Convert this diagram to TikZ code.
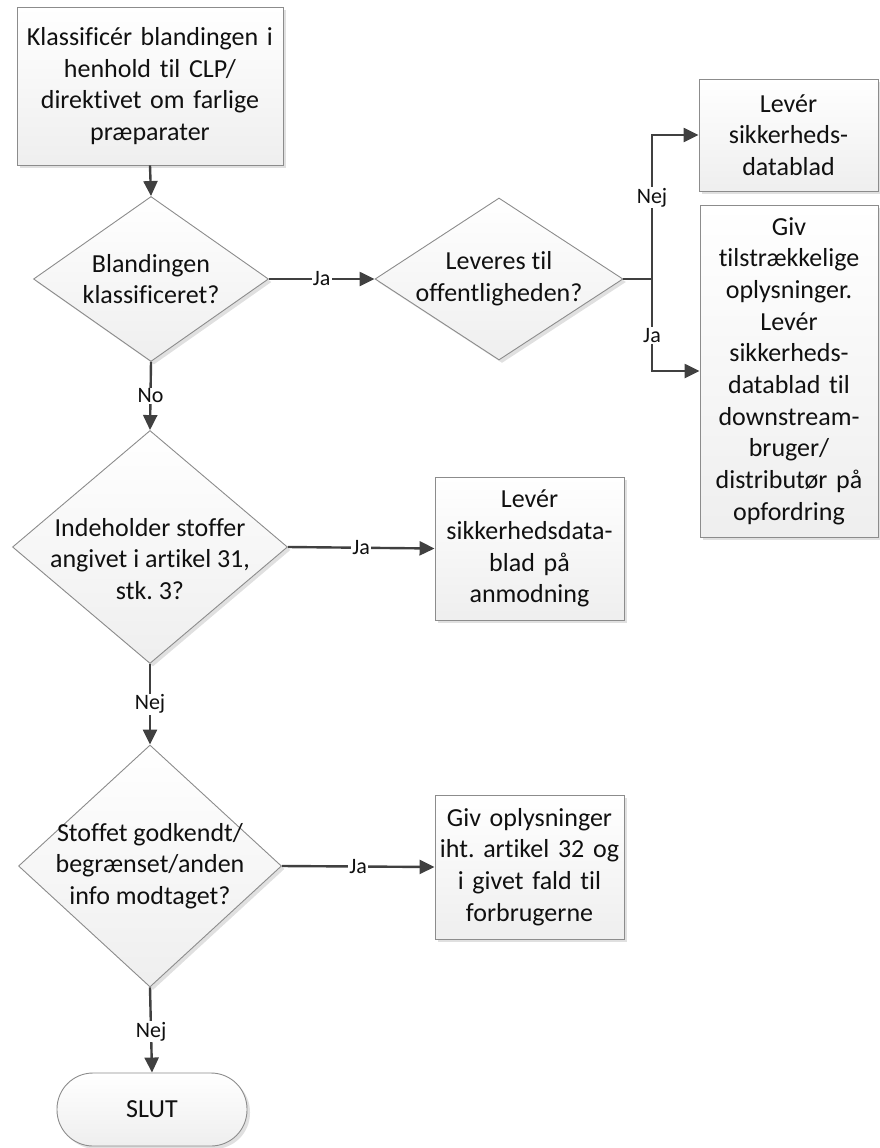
\documentclass[tikz,border=0pt]{standalone}
\usepackage{fontspec}
\setmainfont{Carlito}[Ligatures={NoCommon}]
\usetikzlibrary{shapes.geometric,arrows.meta,shadows}
\definecolor{linecol}{HTML}{404040}
\definecolor{edgecol}{HTML}{8C8C8C}
\definecolor{inkcol}{HTML}{101010}
\begin{document}
\frenchspacing
\begin{tikzpicture}[x=1pt,y=-1pt,
  shadebase/.style={draw=edgecol, line width=0.9pt, top color=white, bottom color=gray!13,
    drop shadow={shadow xshift=3pt, shadow yshift=-3pt, opacity=0.3, fill=gray!80}},
  bodyfont/.style={text=inkcol, font=\fontsize{26}{31.7}\selectfont},
  procbox/.style={shadebase, rectangle, inner sep=0pt, align=center, bodyfont},
  decision/.style={shadebase, diamond, inner sep=0pt},
  dtext/.style={align=center, inner sep=0pt, bodyfont},
  terminal/.style={shadebase, rectangle, rounded corners=36pt, inner sep=0pt, bodyfont},
  flowline/.style={draw=linecol, line width=2.4pt},
  flow/.style={flowline, -{Triangle[length=15pt,width=14pt]}},
  lbl/.style={fill=white, inner sep=1.2pt, text=inkcol, font=\fontsize{22}{26}\selectfont}
]
\useasboundingbox (0,0) rectangle (879,1148);

% main column
\node[procbox, minimum width=266pt, minimum height=158pt, text width=266pt] (b1) at (150,86)
  {Klassificér blandingen i\\henhold til CLP/\\direktivet om farlige\\præparater};
\node[decision, minimum width=235pt, minimum height=165pt,
  label={[dtext]center:Blandingen\\klassificeret?}] (d1) at (151,279) {};
\node[decision, minimum width=275pt, minimum height=233pt,
  label={[dtext, yshift=-12pt]center:Indeholder stoffer\\angivet i artikel 31,\\stk. 3?}] (d3) at (150,547) {};
\node[decision, minimum width=263pt, minimum height=242pt,
  label={[dtext]center:Stoffet godkendt/\\begrænset/anden\\info modtaget?}] (d4) at (150,866) {};
\node[terminal, minimum width=190pt, minimum height=73pt] (slut) at (152,1109.5) {SLUT};

% second decision and its outcomes
\node[decision, minimum width=248pt, minimum height=162pt,
  label={[dtext]center:Leveres til\\offentligheden?}] (d2) at (499,279) {};
\node[procbox, minimum width=179pt, minimum height=112pt, text width=179pt] (b2) at (788.5,135)
  {Levér\\sikkerheds-\\datablad};
\node[procbox, minimum width=178pt, minimum height=332pt, text width=178pt] (b3) at (789,371)
  {Giv\\tilstrækkelige\\oplysninger.\\Levér\\sikkerheds-\\datablad til\\downstream-\\bruger/\\distributør på\\opfordring};

% side actions
\node[procbox, minimum width=189pt, minimum height=143pt, text width=189pt] (b4) at (529.5,548.5)
  {Levér\\sikkerhedsdata-\\blad på\\anmodning};
\node[procbox, minimum width=189pt, minimum height=144pt, text width=189pt] (b5) at (529.5,867)
  {Giv oplysninger\\iht. artikel 32 og\\i givet fald til\\forbrugerne};

\coordinate (j) at (652,279);

% connectors
\draw[flow] (b1.south) -- (d1.north);
\draw[flow] (d1.east) -- node[lbl]{Ja} (d2.west);
\draw[flowline] (d2.east) -- (j);
\draw[flow] (j) |- node[lbl, pos=0.283]{Nej} (b2.west);
\draw[flow] (j) |- node[lbl, pos=0.306]{Ja} (b3.west);
\draw[flow] (d1.south) -- node[lbl]{No} (d3.north);
\draw[flow] (d3.east) -- node[lbl]{Ja} (b4.west);
\draw[flow] (d3.south) -- node[lbl]{Nej} (d4.north);
\draw[flow] (d4.east) -- node[lbl]{Ja} (b5.west);
\draw[flow] (d4.south) -- node[lbl, pos=0.52]{Nej} (slut.north);
\end{tikzpicture}
\end{document}
